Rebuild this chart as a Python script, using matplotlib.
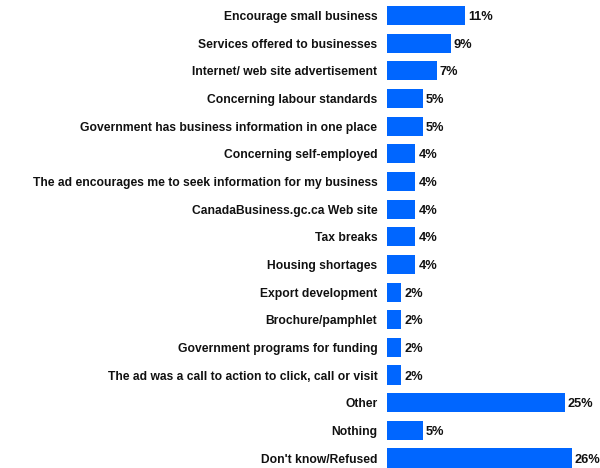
import matplotlib
matplotlib.use('Agg')
import matplotlib.pyplot as plt

categories = [
    'Encourage small business',
    'Services offered to businesses',
    'Internet/ web site advertisement',
    'Concerning labour standards',
    'Government has business information in one place',
    'Concerning self-employed',
    'The ad encourages me to seek information for my business',
    'CanadaBusiness.gc.ca Web site',
    'Tax breaks',
    'Housing shortages',
    'Export development',
    'Brochure/pamphlet',
    'Government programs for funding',
    'The ad was a call to action to click, call or visit',
    'Other',
    'Nothing',
    "Don't know/Refused",
]
percents = [11, 9, 7, 5, 5, 4, 4, 4, 4, 4, 2, 2, 2, 2, 25, 5, 26]

plt.rcParams['font.family'] = ['Liberation Sans', 'DejaVu Sans']

fig = plt.figure(figsize=(6, 4.68), dpi=100)
ax = fig.add_axes([387 / 600, 0, 1 - 387 / 600, 1])

ypos = list(range(len(categories)))
ax.barh(ypos, percents, height=0.69, color='#0066FF', align='center')

for y, v in zip(ypos, percents):
    ax.text(v + 0.4, y, f'{v}%', va='center_baseline', ha='left',
            fontsize=9.2, fontweight='bold', color='#111111')

ax.set_yticks(ypos)
ax.set_yticklabels(categories, fontsize=8.7, fontweight='bold', color='#111111')
ax.tick_params(axis='y', length=0, pad=7)
ax.set_xticks([])
ax.set_xlim(0, 212 / 7.08)
ax.set_ylim(16 + 10 / 27.66, -15.5 / 27.66)
for s in ax.spines.values():
    s.set_visible(False)

fig.savefig('out.png', dpi=100)
